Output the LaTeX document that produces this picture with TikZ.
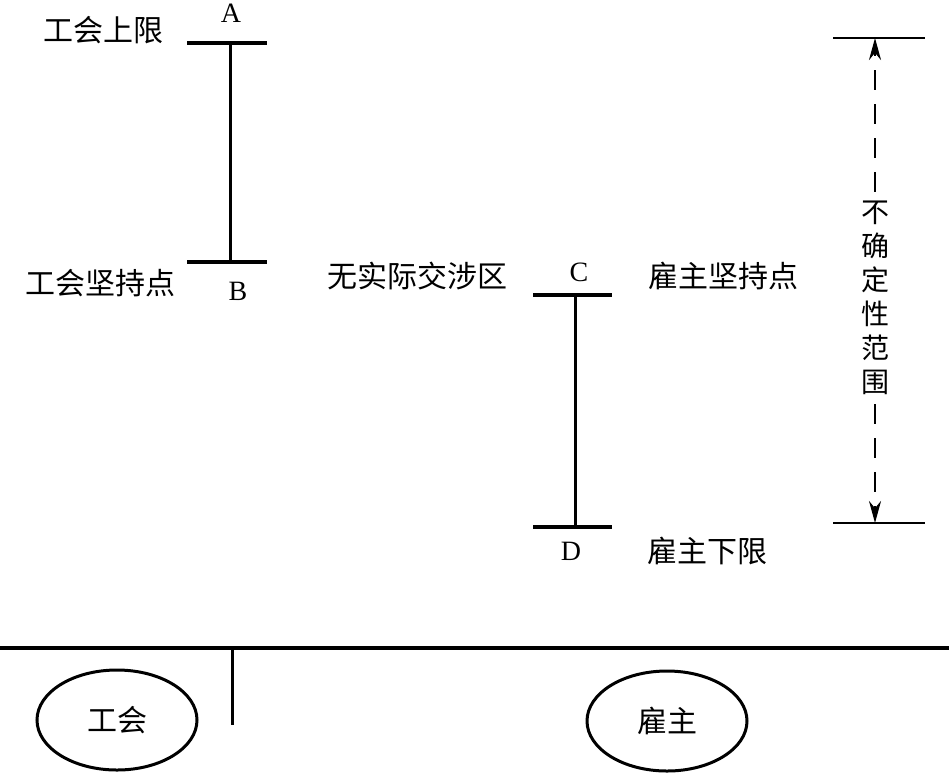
\documentclass[tikz,border=0pt]{standalone}
\usepackage{fontspec}
\setmainfont{Liberation Serif}
\newfontfamily\cjk{Noto Sans CJK SC}
\usetikzlibrary{arrows.meta}
\begin{document}
\begin{tikzpicture}[x=1pt,y=-1pt,
  bar/.style={line width=3.6pt},
  stem/.style={line width=3pt},
  lbl/.style={inner sep=0pt,font=\fontsize{28}{30}\selectfont},
  zh/.style={inner sep=0pt,font=\cjk\fontsize{30}{32}\selectfont},
  oval/.style={line width=3pt},
  dim/.style={line width=2.4pt,dash pattern=on 20pt off 14pt,-{Stealth[length=22pt,width=12pt]}}]
\useasboundingbox (0,0) rectangle (949,772);
% A-B
\coordinate (a1) at (187,43); \coordinate (a2) at (267,43); \coordinate (am) at (230,43);
\coordinate (b1) at (187,262); \coordinate (b2) at (267,262); \coordinate (bm) at (230,262);
\draw[bar] (a1) -- (a2);
\draw[bar] (b1) -- (b2);
\draw[stem] (am) -- (bm);
\node[lbl] (A) at (231,13) {A};
\node[lbl] (B) at (238,291) {B};
\node[zh] (ul) at (103,30) {工会上限};
\node[zh] (ub) at (100,283) {工会坚持点};
% C-D
\coordinate (c1) at (533,295); \coordinate (c2) at (612,295); \coordinate (cm) at (575,295);
\coordinate (d1) at (533,527); \coordinate (d2) at (612,527); \coordinate (dm) at (575,527);
\draw[bar] (c1) -- (c2);
\draw[bar] (d1) -- (d2);
\draw[stem] (cm) -- (dm);
\node[lbl] (C) at (579,272) {C};
\node[lbl] (D) at (571,551) {D};
\node[zh] (nz) at (417,276) {无实际交涉区};
\node[zh] (ec) at (723,276) {雇主坚持点};
\node[zh] (el) at (707,551) {雇主下限};
% uncertainty range
\coordinate (t1) at (833,38); \coordinate (t2) at (925,38); \coordinate (tm) at (875,38);
\coordinate (s1) at (833,523); \coordinate (s2) at (925,523); \coordinate (sm) at (875,523);
\draw[line width=2.4pt] (t1) -- (t2);
\draw[line width=2.4pt] (s1) -- (s2);
\node[inner xsep=0pt,inner ysep=9pt,align=center,font=\cjk\fontsize{28}{34}\selectfont] (rng) at (875,298) {不\\确\\定\\性\\范\\围};
\draw[dim] (rng.north) -- (tm);
\draw[dim] (rng.south) -- (sm);
% bottom
\coordinate (g1) at (0,648); \coordinate (g2) at (949,648);
\coordinate (p1) at (232,648); \coordinate (p2) at (232,725);
\draw[line width=3.6pt] (g1) -- (g2);
\draw[stem] (p1) -- (p2);
\draw[oval] (117,720) ellipse (80 and 50);
\node[zh] (gh) at (117,720) {工会};
\draw[oval] (667,721) ellipse (80 and 50);
\node[zh] (gz) at (667,721) {雇主};
\end{tikzpicture}
\end{document}
